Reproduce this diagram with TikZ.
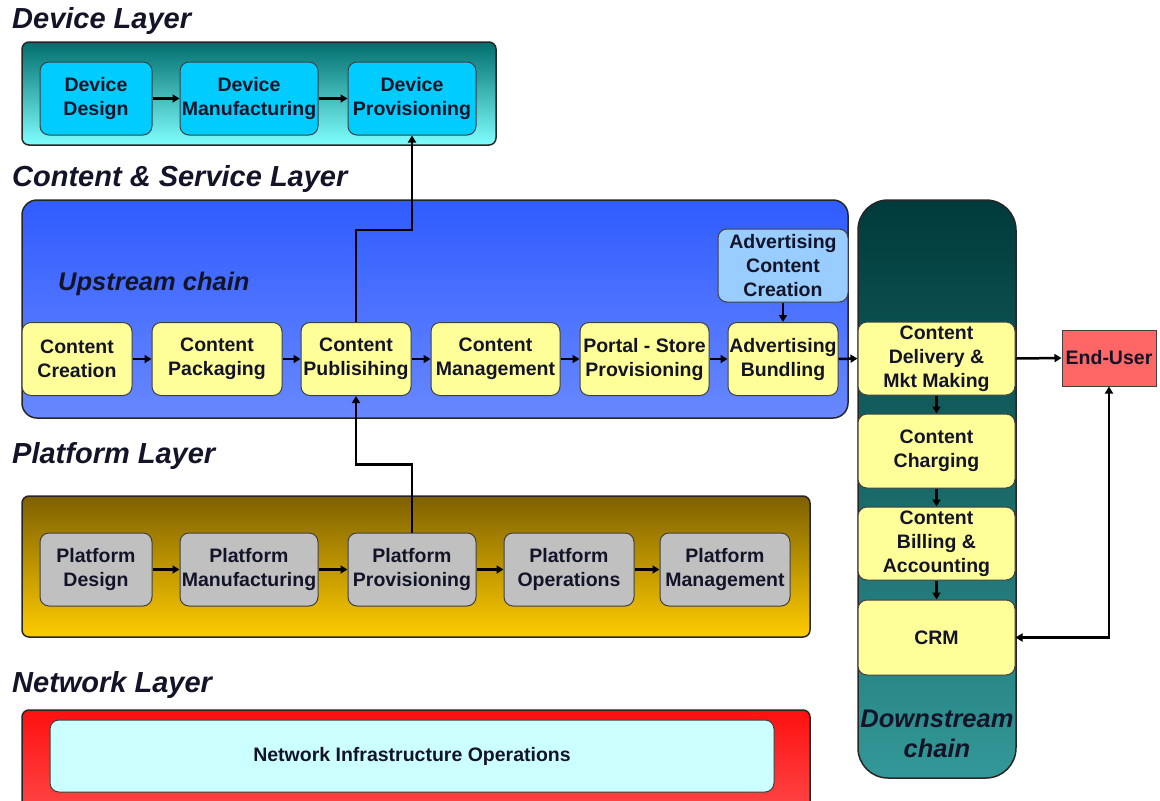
\documentclass[tikz,border=0pt]{standalone}
\usepackage{fontspec}
\setmainfont{Liberation Sans}
\usetikzlibrary{arrows.meta}

\definecolor{devbox}{HTML}{00CCFF}
\definecolor{contbox}{HTML}{FFFF99}
\definecolor{advbox}{HTML}{99CCFF}
\definecolor{platbox}{HTML}{C0C0C0}
\definecolor{userbox}{HTML}{FF6666}
\definecolor{netbox}{HTML}{CCFFFF}
\definecolor{txt}{HTML}{141428}

\begin{document}
\begin{tikzpicture}[
        x=1pt, y=-1pt,
        layer/.style={draw=black!85, line width=1.5pt, rounded corners=7pt, inner sep=0pt},
        box/.style={draw=black!75, line width=1pt, rounded corners=9pt, inner sep=0pt, align=center,
            text=txt, minimum height=73pt, font=\bfseries\fontsize{19.5}{24}\selectfont},
        title/.style={anchor=west, inner sep=0pt, text=txt, font=\bfseries\itshape\fontsize{29}{34}\selectfont},
        arrow/.style={-{Triangle[length=7pt,width=8pt]}, line width=2.5pt}
    ]
        \clip (0,0) rectangle (1160,801);

        % Layer titles
        \node[title] (devtitle) at (12,21) {Device Layer};
        \node[title] (conttitle) at (12,179) {Content \& Service Layer};
        \node[title] (plattitle) at (12,456) {Platform Layer};
        \node[title] (nettitle) at (12,685) {Network Layer};

        % Layer backgrounds
        \node[layer, top color={rgb,255:red,0;green,110;blue,108}, bottom color={rgb,255:red,128;green,255;blue,255},
            minimum width=474pt, minimum height=103pt] (devlayer) at (259,93.5) {};
        \node[layer, top color={rgb,255:red,48;green,92;blue,255}, bottom color={rgb,255:red,104;green,136;blue,255},
            rounded corners=15pt, minimum width=826pt, minimum height=218pt] (contlayer) at (435,309) {};
        \node[layer, top color={rgb,255:red,0;green,58;blue,58}, bottom color={rgb,255:red,52;green,152;blue,152},
            rounded corners=30pt, minimum width=158pt, minimum height=578pt] (downlayer) at (937,489) {};
        \node[layer, top color={rgb,255:red,126;green,96;blue,0}, bottom color={rgb,255:red,255;green,204;blue,0},
            minimum width=788pt, minimum height=141pt] (platlayer) at (416,566.5) {};
        \node[layer, top color={rgb,255:red,255;green,16;blue,16}, bottom color={rgb,255:red,255;green,70;blue,70},
            minimum width=788pt, minimum height=100pt] (netlayer) at (416,760) {};

        \node[title, font=\bfseries\itshape\fontsize{25.5}{30}\selectfont] (upstream) at (58,284) {Upstream chain};
        \node[align=center, inner sep=0pt, text=txt, font=\bfseries\itshape\fontsize{25.5}{30}\selectfont]
            (downstream) at (937,734) {Downstream\\chain};

        % Device layer
        \node[box, fill=devbox, minimum width=112pt] (ddesign) at (96,98.5) {Device\\Design};
        \node[box, fill=devbox, minimum width=138pt] (dmanuf) at (249,98.5) {Device\\Manufacturing};
        \node[box, fill=devbox, minimum width=128pt] (dprov) at (412,98.5) {Device\\Provisioning};

        % Content & service layer
        \node[box, fill=contbox, minimum width=110pt] (ccreate) at (77,359) {Content\\Creation};
        \node[box, fill=contbox, minimum width=130pt] (cpack) at (217,359) {Content\\Packaging};
        \node[box, fill=contbox, minimum width=110pt] (cpub) at (356,359) {Content\\Publisihing};
        \node[box, fill=contbox, minimum width=129pt] (cmgmt) at (495.5,359) {Content\\Management};
        \node[box, fill=contbox, minimum width=129pt] (portal) at (644.5,359) {Portal - Store\\Provisioning};
        \node[box, fill=contbox, minimum width=110pt] (advbundle) at (783,359) {Advertising\\Bundling};
        \node[box, fill=advbox, minimum width=130pt] (advcreate) at (783,265.5) {Advertising\\Content\\Creation};

        % Downstream chain
        \node[box, fill=contbox, minimum width=157pt] (delivery) at (936.5,358.5) {Content\\Delivery \&\\Mkt Making};
        \node[box, fill=contbox, minimum width=157pt, minimum height=74pt] (charging) at (936.5,451) {Content\\Charging};
        \node[box, fill=contbox, minimum width=157pt] (billing) at (936.5,543.5) {Content\\Billing \&\\Accounting};
        \node[box, fill=contbox, minimum width=157pt, minimum height=75pt] (crm) at (936.5,637.5) {CRM};
        \node[box, fill=userbox, rounded corners=0pt, minimum width=94pt, minimum height=56pt] (enduser) at (1109,358) {End-User};

        % Platform layer
        \node[box, fill=platbox, minimum width=112pt] (pdesign) at (96,569.5) {Platform\\Design};
        \node[box, fill=platbox, minimum width=138pt] (pmanuf) at (249,569.5) {Platform\\Manufacturing};
        \node[box, fill=platbox, minimum width=128pt] (pprov) at (412,569.5) {Platform\\Provisioning};
        \node[box, fill=platbox, minimum width=130pt] (pops) at (569,569.5) {Platform\\Operations};
        \node[box, fill=platbox, minimum width=130pt] (pmgmt) at (725,569.5) {Platform\\Management};

        % Network layer
        \node[box, fill=netbox, minimum width=724pt, minimum height=72pt] (netops) at (412,756) {Network Infrastructure Operations};

        % Chains
        \draw[arrow] (ddesign) -- (dmanuf);
        \draw[arrow] (dmanuf) -- (dprov);
        \draw[arrow] (ccreate) -- (cpack);
        \draw[arrow] (cpack) -- (cpub);
        \draw[arrow] (cpub) -- (cmgmt);
        \draw[arrow] (cmgmt) -- (portal);
        \draw[arrow] (portal) -- (advbundle);
        \draw[arrow] (advcreate) -- (advbundle);
        \draw[arrow] (advbundle.east) -- (delivery.west);
        \draw[arrow] (delivery) -- (charging);
        \draw[arrow] (charging) -- (billing);
        \draw[arrow] (billing) -- (crm);
        \draw[arrow] (delivery.east) -- (enduser.west);
        \draw[arrow, {Triangle[length=7pt,width=8pt]}-{Triangle[length=7pt,width=8pt]}] (crm.east) -| (enduser.south);
        \draw[arrow] (pdesign) -- (pmanuf);
        \draw[arrow] (pmanuf) -- (pprov);
        \draw[arrow] (pprov) -- (pops);
        \draw[arrow] (pops) -- (pmgmt);

        % Cross-layer links
        \draw[arrow] (cpub.north) -- ++(0,-92) -| (dprov.south);
        \draw[arrow] (pprov.north) -- ++(0,-68) -| (cpub.south);
    \end{tikzpicture}
\end{document}
